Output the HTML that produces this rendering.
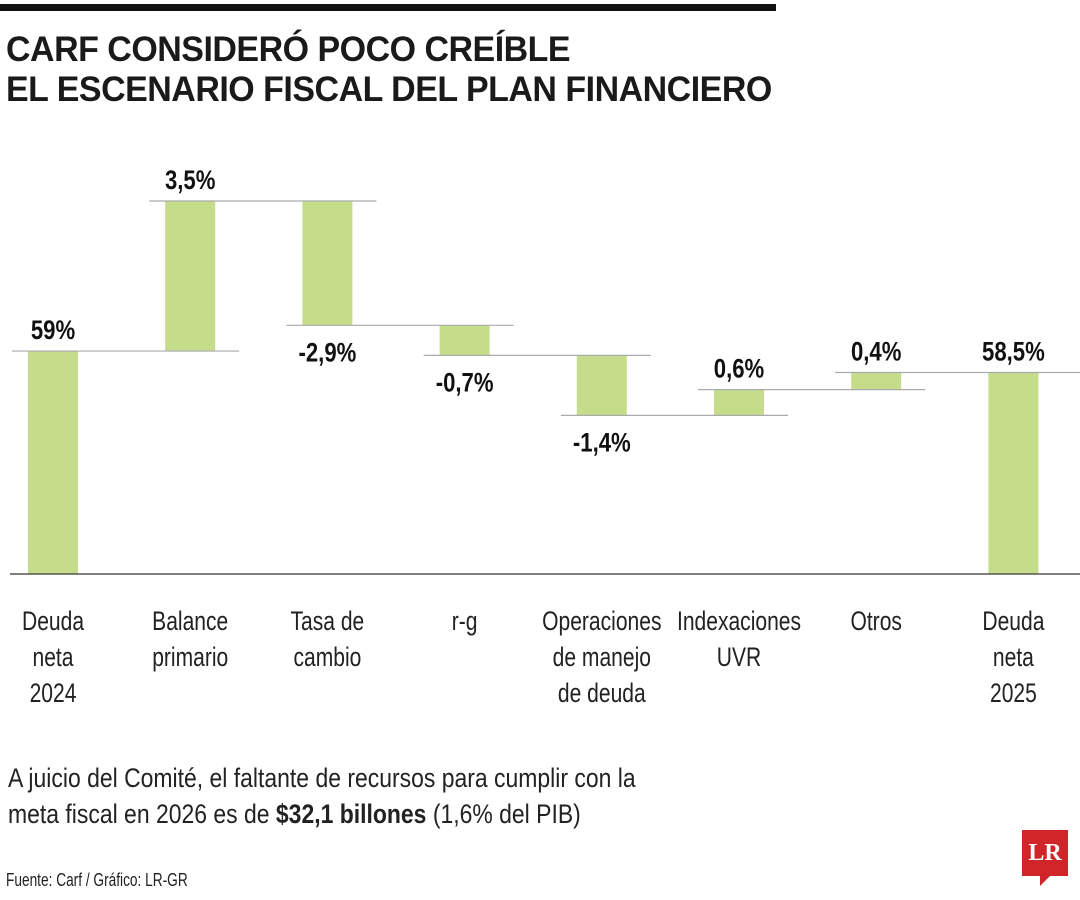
<!DOCTYPE html>
<html><head><meta charset="utf-8"><style>
body{margin:0;background:#fff;width:1080px;height:900px;overflow:hidden;position:relative;font-family:"Liberation Sans",sans-serif;color:#1a1a1a}
.t{position:absolute;left:6px;font-weight:bold;font-size:35px;line-height:40px;letter-spacing:-0.5px;transform-origin:0 0;transform:scale(0.97,1);white-space:nowrap}
</style></head><body>
<div style="position:absolute;left:0;top:4px;width:776px;height:7px;background:#111"></div>
<div class="t" style="top:30px">CARF CONSIDERÓ POCO CREÍBLE<br>EL ESCENARIO FISCAL DEL PLAN FINANCIERO</div>
<svg id="c" width="1080" height="900" style="position:absolute;left:0;top:0"></svg>
<div style="position:absolute;left:8px;top:760px;font-size:27px;line-height:36px;color:#222;transform-origin:0 0;transform:scale(0.85,1);white-space:nowrap">A juicio del Comité, el faltante de recursos para cumplir con la<br>meta fiscal en 2026 es de <b>$32,1 billones</b> (1,6% del PIB)</div>
<div style="position:absolute;left:6px;top:870px;font-size:18px;color:#222;transform-origin:0 0;transform:scale(0.76,1);white-space:nowrap">Fuente: Carf / Gráfico: LR-GR</div>
<div style="position:absolute;left:1022px;top:830px;width:46px;height:46px;background:#d0262a;color:#fff;font-family:'Liberation Serif',serif;font-weight:bold;font-size:24px;line-height:46px;text-align:center">LR</div>
<div style="position:absolute;left:1040px;top:876px;width:0;height:0;border-left:10px solid #d0262a;border-bottom:10px solid transparent"></div>
<script>
const categories=[["Deuda","neta","2024"],["Balance","primario"],["Tasa de","cambio"],["r-g"],["Operaciones","de manejo","de deuda"],["Indexaciones","UVR"],["Otros"],["Deuda","neta","2025"]];
const values=[59,3.5,-2.9,-0.7,-1.4,0.6,0.4,58.5];
const labels=["59%","3,5%","-2,9%","-0,7%","-1,4%","0,6%","0,4%","58,5%"];
const yMin=53.8, yMax=62.5;
const svg=document.getElementById('c');
const NS='http://www.w3.org/2000/svg';
const basePx=574, topPx=201;
function y(v){return basePx-(v-yMin)/(yMax-yMin)*(basePx-topPx);}
function x(i){return 53+i*137.2;}
const bw=50;
function mk(t,a){const e=document.createElementNS(NS,t);for(const k in a)e.setAttribute(k,a[k]);svg.appendChild(e);return e;}
function txt(s,cx,cy,size,bold,sx){
  const e=mk('text',{x:0,y:0,'text-anchor':'middle','font-size':size,'font-weight':bold?'bold':'normal',fill:bold?'#111':'#222',transform:'translate('+cx+','+cy+') scale('+sx+',1)','font-family':'Liberation Sans, sans-serif'});
  e.textContent=s;return e;
}
let run=0;const ends=[];
values.forEach((v,i)=>{
  let a,b;
  if(i===0||i===values.length-1){a=yMin;b=v;run=v;}
  else{a=run;b=run+v;run=b;}
  ends.push(b);
  const y1=y(Math.max(a,b)),y2=y(Math.min(a,b));
  const r=mk('rect',{x:x(i)-bw/2,y:y1,width:bw,height:y2-y1,fill:'#c5dc8a'});
  
  
  const neg=v<0;
  const t=txt(labels[i],x(i),neg?y2+36:y1-12,27,true,0.82);
  
  
  categories[i].forEach((l,j)=>{
    const c=txt(l,x(i),630+j*36,27,false,0.78);
    
    
  });
});
for(let i=0;i<values.length-1;i++){
  const l=mk('line',{x1:x(i)-bw/2-16,x2:i+1===values.length-1?1080:x(i+1)+bw/2+24,y1:y(ends[i]),y2:y(ends[i]),stroke:'#aaa','stroke-width':1.2});
  
  
}
const ax=mk('line',{x1:10,x2:1080,y1:basePx,y2:basePx,stroke:'#555','stroke-width':1.5});


</script>
</body></html>
